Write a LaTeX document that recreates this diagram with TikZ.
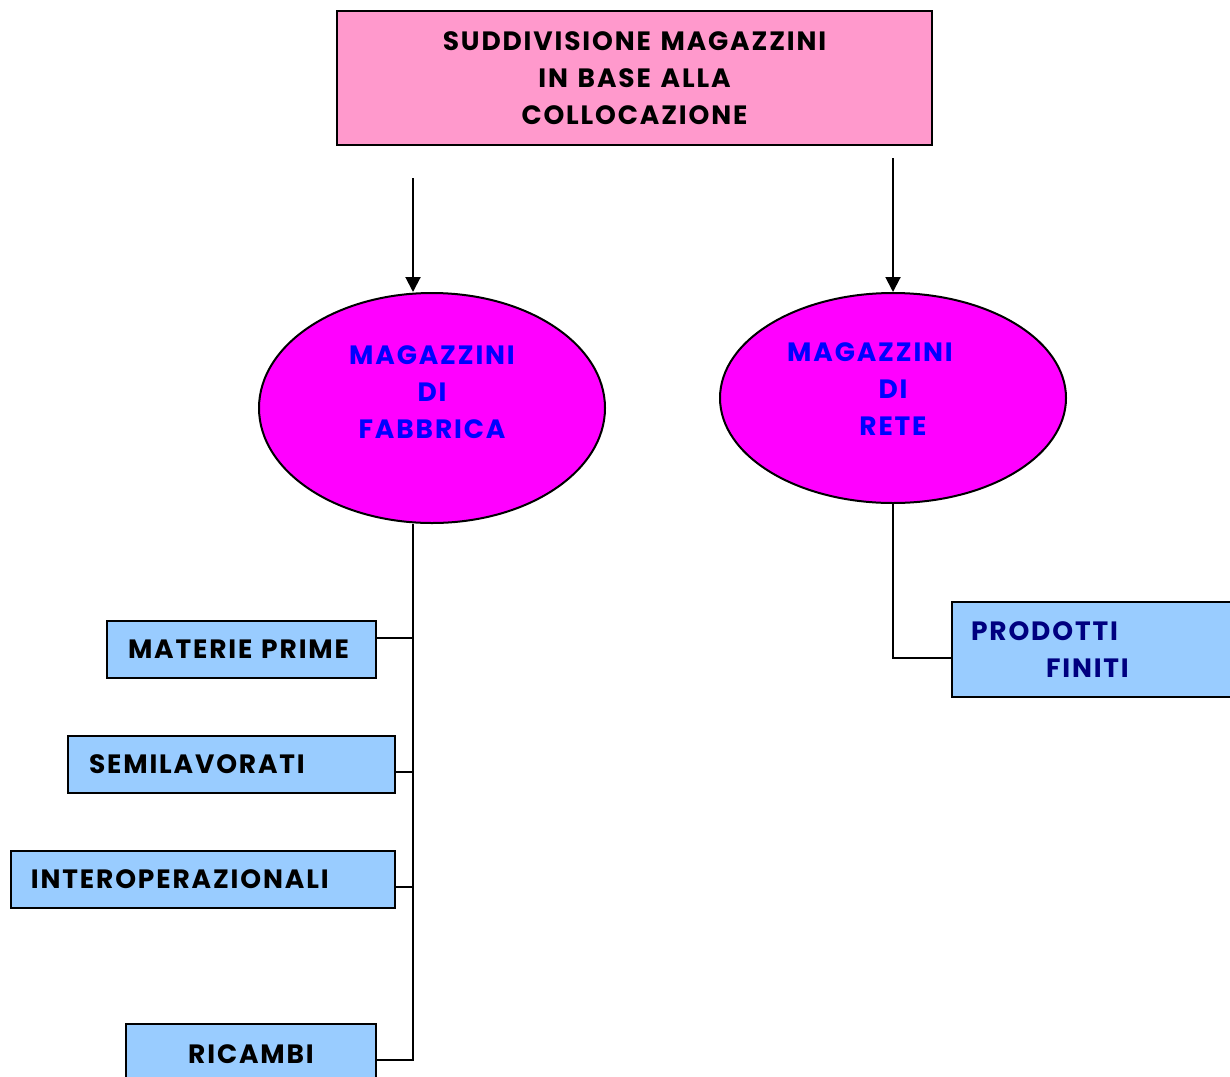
\documentclass[tikz,border=0pt]{standalone}
\usepackage{fontspec}
\setmainfont{Poppins}[LetterSpace=7,WordSpace=1.3]
\usetikzlibrary{shapes.geometric,arrows.meta}
\definecolor{titlepink}{HTML}{FF99CC}
\definecolor{ellmag}{HTML}{FF00FF}
\definecolor{boxblue}{HTML}{99CCFF}
\definecolor{textblue}{HTML}{0000FF}
\definecolor{navy}{HTML}{000080}
\tikzset{
  every node/.style={font=\fontsize{26.5pt}{37pt}\selectfont\bfseries},
  line/.style={draw=black, line width=2pt},
  arr/.style={line, -{Triangle[length=15pt,width=15pt]}},
  titlebox/.style={rectangle, draw, line width=2pt, fill=titlepink, inner sep=0pt, align=center},
  ell/.style={ellipse, draw, line width=2pt, fill=ellmag, inner sep=0pt},
  elltext/.style={text=textblue, align=center, inner sep=0pt},
  itembox/.style={rectangle, draw, line width=2pt, fill=boxblue, inner sep=0pt, align=left, anchor=north west},
}
\begin{document}
\begin{tikzpicture}[x=1pt,y=-1pt]
\useasboundingbox (0,0) rectangle (1230,1076);
\clip (0,0) rectangle (1230,1076);
% title
\node[titlebox, minimum width=595pt, minimum height=134pt] (title) at (634.5,78) {SUDDIVISIONE MAGAZZINI\\IN BASE ALLA\\COLLOCAZIONE};
% the two kinds of warehouse
\node[ell, minimum width=346pt, minimum height=230pt] (fab) at (432,408) {};
\node[elltext] (fabt) at (432,392) {MAGAZZINI\\DI\\FABBRICA};
\node[ell, minimum width=346pt, minimum height=210pt] (rete) at (893,398) {};
\node[elltext] (retet) at (893,389) {MAGAZZINI\kern46pt\\DI\\RETE};
% arrows
\coordinate (a1) at (413,178);
\coordinate (a2) at (893,158);
\draw[arr] (a1) -- (a1 |- fab.north);
\draw[arr] (a2) -- (rete.north);
% items of factory warehouses
\node[itembox, minimum width=269pt, minimum height=57pt, text width=269pt] (mat) at (106,620) {\hspace*{21pt}MATERIE PRIME};
\node[itembox, minimum width=327pt, minimum height=57pt, text width=327pt] (semi) at (67,735) {\hspace*{21pt}SEMILAVORATI};
\node[itembox, minimum width=384pt, minimum height=57pt, text width=384pt] (inter) at (10,850) {\hspace*{20pt}INTEROPERAZIONALI};
\node[itembox, minimum width=250pt, minimum height=60pt, text width=250pt, align=center] (ric) at (125,1023) {RICAMBI};
% items of network warehouses
\node[itembox, minimum width=285pt, minimum height=95pt, text width=285pt, text=navy] (prod) at (951,601) {\hspace*{19pt}PRODOTTI\\\hspace*{94pt}FINITI};
% factory tree
\coordinate (b1) at (413,638);
\coordinate (b2) at (413,772);
\coordinate (b3) at (413,887);
\coordinate (b4) at (413,1060);
\draw[line] (fab.south -| b1) -- (b4) -- (b4 -| ric.east);
\draw[line] (b1) -- (b1 -| mat.east);
\draw[line] (b2) -- (b2 -| semi.east);
\draw[line] (b3) -- (b3 -| inter.east);
% network tree
\coordinate (c1) at (893,658);
\draw[line] (rete.south) -- (c1) -- (c1 -| prod.west);
\end{tikzpicture}
\end{document}
